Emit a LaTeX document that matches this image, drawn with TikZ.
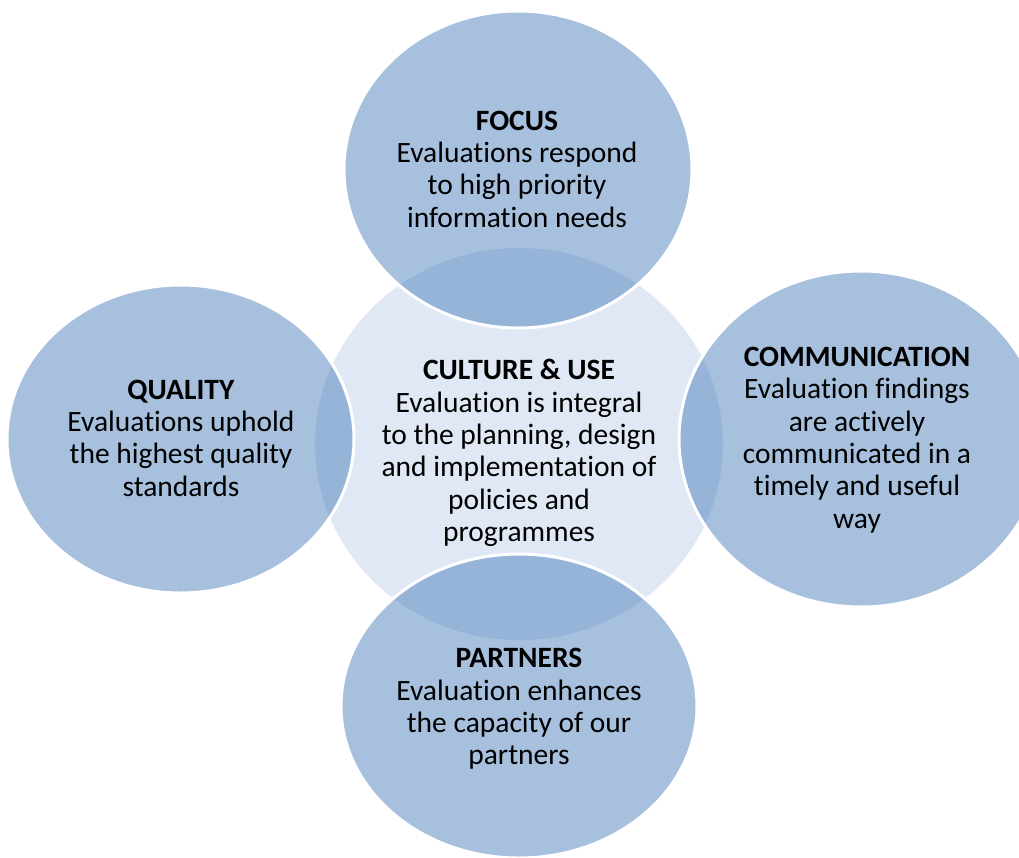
\documentclass[tikz,border=0pt]{standalone}
\usepackage{fontspec}
\setmainfont{Carlito}[Ligatures=NoCommon]
\definecolor{accentblue}{HTML}{4F81BD}
\definecolor{hubfill}{RGB}{223,232,244}
\begin{document}
\begin{tikzpicture}[x=1pt,y=-1pt,
  hub/.style={fill=hubfill},
  petal/.style={fill=accentblue,fill opacity=0.5},
  rim/.style={draw=white,line width=3pt},
  caption/.style={inner sep=0pt,align=center,text=black,
    font=\fontsize{29.5}{32.3}\selectfont}]
\useasboundingbox (0,0) rectangle (1019,857);

% central circle
\path[hub] (519,444) ellipse [x radius=204,y radius=196];

% four surrounding circles, translucent over the centre
\path[petal] (518,169.5) ellipse [x radius=174,y radius=158.5];
\path[rim]   (518,169.5) ellipse [x radius=174,y radius=158.5];
\path[petal] (180.5,439) ellipse [x radius=173.5,y radius=154];
\path[rim]   (180.5,439) ellipse [x radius=173.5,y radius=154];
\path[petal] (861,439) ellipse [x radius=182,y radius=168];
\path[rim]   (861,439) ellipse [x radius=182,y radius=168];
\path[petal] (519,706) ellipse [x radius=178,y radius=152];
\path[rim]   (519,706) ellipse [x radius=178,y radius=152];

% labels
\node[caption] (use) at (519,453)
  {\textbf{CULTURE \& USE}\\Evaluation is integral\\to the planning, design\\and implementation of\\policies and\\programmes};
\node[caption] (focus) at (517,169)
  {\textbf{FOCUS}\\Evaluations respond\\to high priority\\information needs};
\node[caption] (quality) at (181,438)
  {\textbf{QUALITY}\\Evaluations uphold\\the highest quality\\standards};
\node[caption] (comm) at (857,440)
  {\textbf{COMMUNICATION}\\Evaluation findings\\are actively\\communicated in a\\timely and useful\\way};
\node[caption] (partners) at (519,709)
  {\textbf{PARTNERS}\\Evaluation enhances\\the capacity of our\\partners};
\end{tikzpicture}
\end{document}
